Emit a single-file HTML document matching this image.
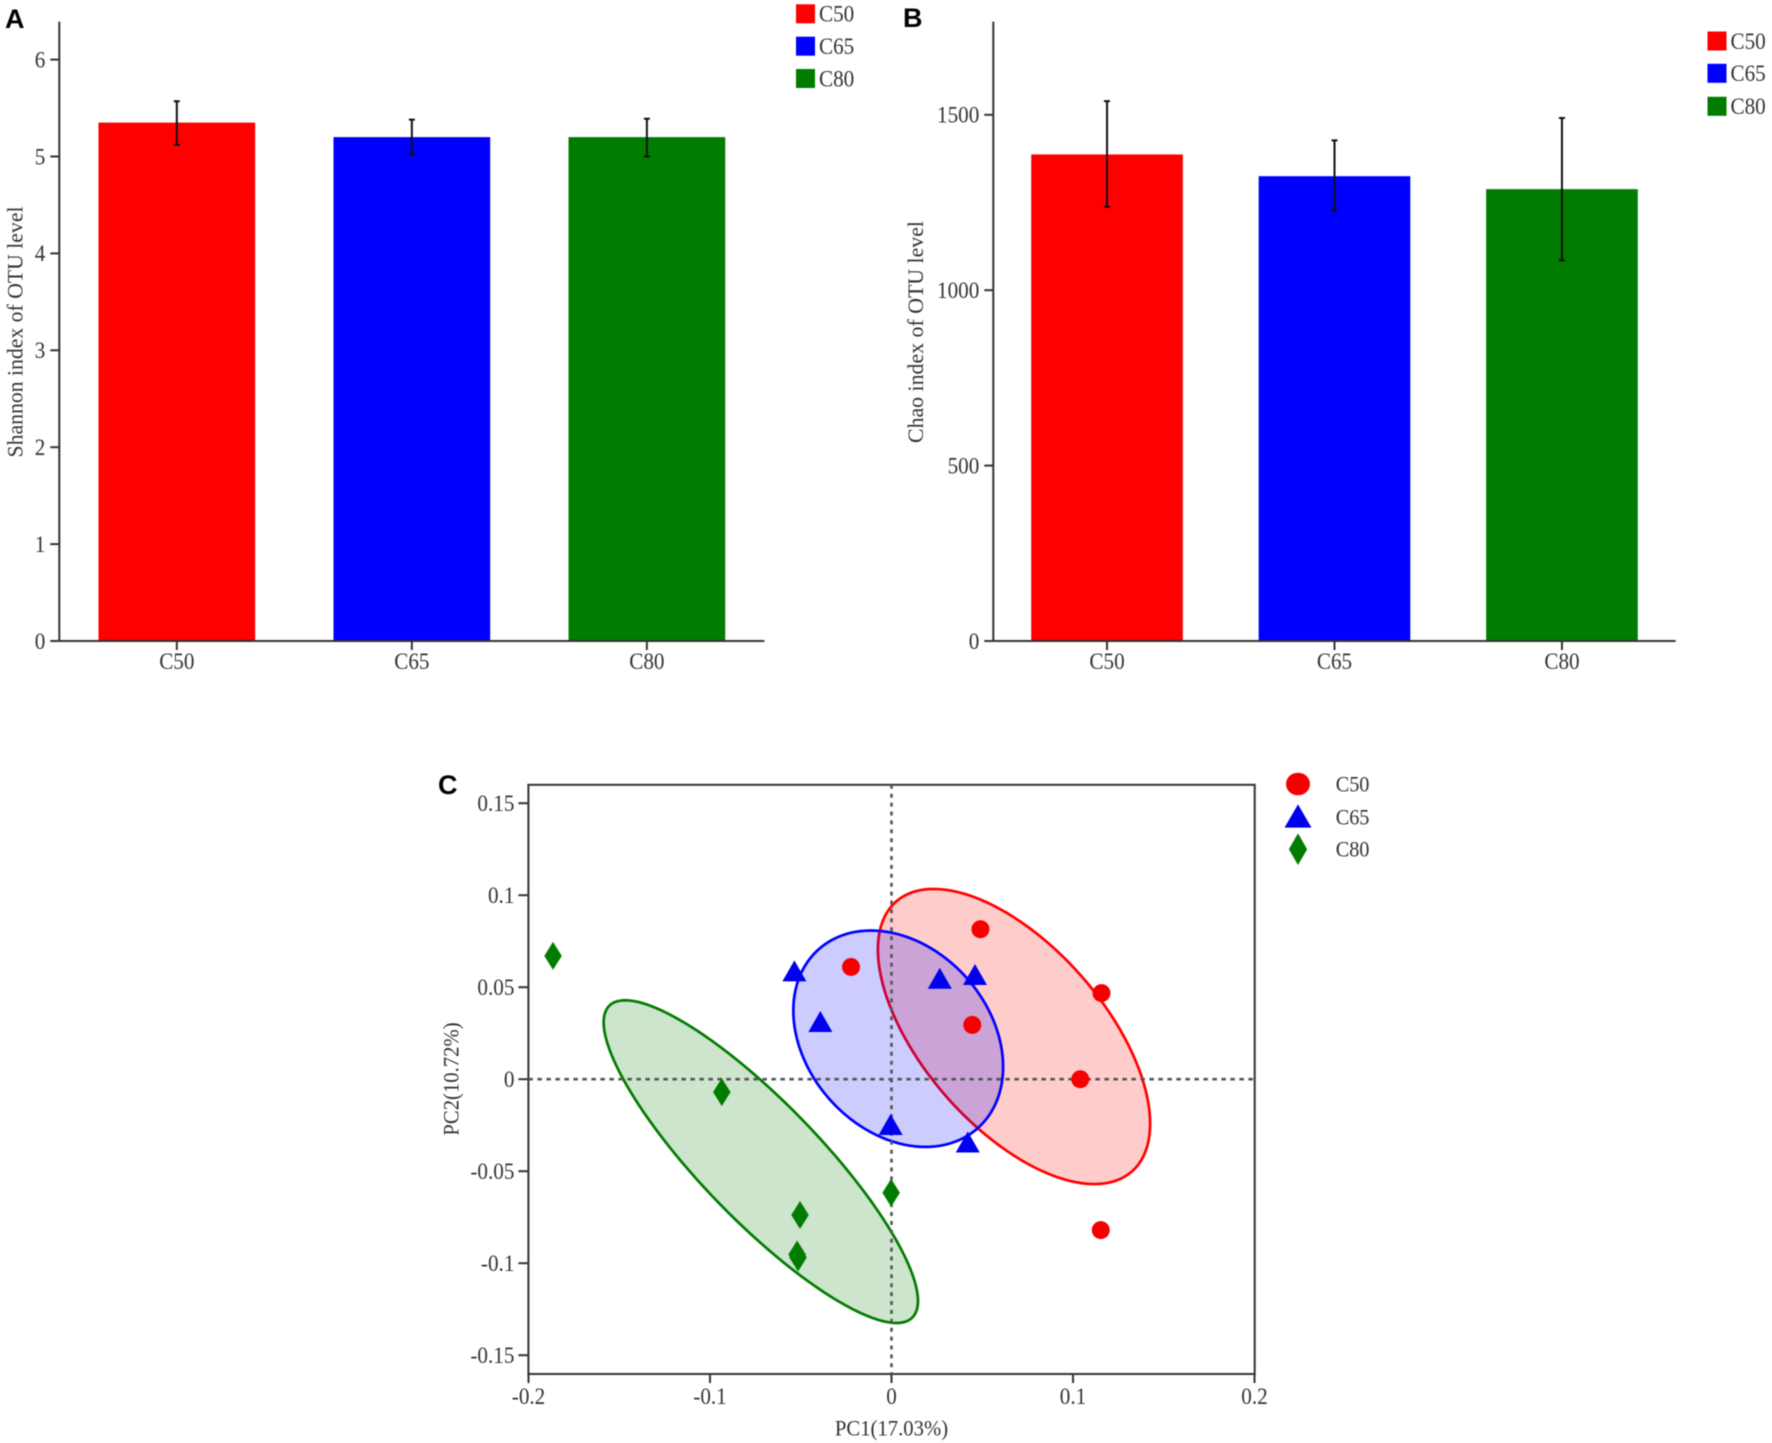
<!DOCTYPE html>
<html lang="en">
<head>
<meta charset="utf-8">
<title>Alpha diversity and PCoA of OTU level</title>
<style>
  html, body { margin: 0; padding: 0; background: #fff; }
  #figure { display: block; width: 1772px; height: 1443px; filter: blur(0.5px); }
  text { font-family: "Liberation Serif", serif; fill: #333; }
  .panel-letter { font-family: "Liberation Sans", sans-serif; font-weight: 700; font-size: 27px; fill: #000; }
</style>
</head>
<body>
<svg id="figure" xmlns="http://www.w3.org/2000/svg" width="1772" height="1443" viewBox="0 0 1772 1443">
  <rect x="0" y="0" width="1772" height="1443" fill="#fff"/>
  <text class="panel-letter" x="5" y="28">A</text>
  <text class="panel-letter" x="903" y="27">B</text>
  <text class="panel-letter" x="438" y="794">C</text>
  <g id="panel-a"></g>
  <g id="panel-b"></g>
  <g id="panel-c"></g>
</svg>
<script>
// ---- Chart data ----
const groupNames = ['C50', 'C65', 'C80'];
const groupColors = ['#ff0000', '#0000ff', '#007c00'];

const shannonValues = [5.35, 5.2, 5.2];
const shannonErrLow = [5.12, 5.02, 5.0];
const shannonErrHigh = [5.57, 5.38, 5.39];
const shannonTicks = [0, 1, 2, 3, 4, 5, 6];

const chaoValues = [1387, 1325, 1288];
const chaoErrLow = [1238, 1226, 1085];
const chaoErrHigh = [1539, 1427, 1491];
const chaoTicks = [0, 500, 1000, 1500];

const pc1Ticks = [-0.2, -0.1, 0, 0.1, 0.2];
const pc2Ticks = [-0.15, -0.1, -0.05, 0, 0.05, 0.1, 0.15];

const c50Pc1 = [-0.0223, 0.049, 0.1157, 0.0445, 0.104, 0.1153];
const c50Pc2 = [0.061, 0.0815, 0.0468, 0.0295, 0.0, -0.082];
const c65Pc1 = [-0.0535, -0.0392, 0.0266, 0.046, -0.0005, 0.042];
const c65Pc2 = [0.0575, 0.03, 0.0535, 0.0555, -0.026, -0.0355];
const c80Pc1 = [-0.1865, -0.0935, -0.0504, -0.052, -0.0515, -0.0002];
const c80Pc2 = [0.067, -0.007, -0.0738, -0.0953, -0.0969, -0.0617];

// confidence ellipses in data units: centre, half extents, correlation
const ellipsePc1Centre = [0.0675, 0.0037, -0.072];
const ellipsePc2Centre = [0.0232, 0.022, -0.0448];
const ellipsePc1Extent = [0.075, 0.0578, 0.0866];
const ellipsePc2Extent = [0.0802, 0.0588, 0.0877];
const ellipseCorrelation = [-0.59, -0.26, -0.863];

// ---- Drawing helpers ----
const SVG_NS = 'http://www.w3.org/2000/svg';
function mk(parent, tag, attrs, txt) {
  const el = document.createElementNS(SVG_NS, tag);
  for (const k in attrs) el.setAttribute(k, attrs[k]);
  if (txt !== undefined) el.textContent = txt;
  parent.appendChild(el);
  return el;
}
// Text in the reference is slightly condensed: same width as a smaller size, taller glyphs.
function label(parent, x, y, str, size, anchor, rotate, squeeze) {
  return mk(parent, 'text', {
    x: 0, y: 0, 'text-anchor': anchor, 'dominant-baseline': 'central', 'font-size': size,
    transform: 'translate(' + x + ' ' + y + ') rotate(' + (rotate || 0) + ') scale(' + (squeeze || 0.92) + ' 1)'
  }, str);
}
const AXIS = '#333';

function drawBarChart(root, cfg, values, errLow, errHigh, ticks) {
  const y = v => cfg.y0 - v * cfg.pxPerUnit;
  const band = (cfg.xEnd - cfg.xAxis) / groupNames.length;
  const xc = i => cfg.xAxis + band * (i + 0.5);
  const barW = band * 2 / 3;

  groupNames.forEach((name, i) => {
    const bar = mk(root, 'rect', { x: xc(i) - barW / 2, y: y(values[i]), width: barW, height: cfg.y0 - y(values[i]), fill: groupColors[i] });
    
    
  });

  const yAxis = mk(root, 'line', { x1: cfg.xAxis, x2: cfg.xAxis, y1: cfg.yTop, y2: cfg.y0 + 1, stroke: AXIS, 'stroke-width': 2 });
  
  
  const xAxis = mk(root, 'line', { x1: cfg.xAxis, x2: cfg.xEnd, y1: cfg.y0, y2: cfg.y0, stroke: AXIS, 'stroke-width': 2 });
  
  

  ticks.forEach(t => {
    const tick = mk(root, 'line', { x1: cfg.xAxis - 9, x2: cfg.xAxis, y1: y(t), y2: y(t), stroke: AXIS, 'stroke-width': 2 });
    
    
    const lab = label(root, cfg.xAxis - 14, y(t), String(t), 23, 'end');
    
    
  });

  groupNames.forEach((name, i) => {
    const tick = mk(root, 'line', { x1: xc(i), x2: xc(i), y1: cfg.y0, y2: cfg.y0 + 9, stroke: AXIS, 'stroke-width': 2 });
    
    
    const lab = label(root, xc(i), cfg.y0 + 20, name, 23, 'middle');
    
    

    const err = mk(root, 'path', {
      d: 'M' + (xc(i) - 3) + ' ' + y(errHigh[i]) + 'H' + (xc(i) + 3) +
         'M' + xc(i) + ' ' + y(errHigh[i]) + 'V' + y(errLow[i]) +
         'M' + (xc(i) - 3) + ' ' + y(errLow[i]) + 'H' + (xc(i) + 3),
      stroke: '#111', 'stroke-width': 2, fill: 'none'
    });
    
    

    const sw = mk(root, 'rect', { x: cfg.legendX, y: cfg.legendY[i] - 9.5, width: 19, height: 19, fill: groupColors[i] });
    
    
    const lt = label(root, cfg.legendX + 23, cfg.legendY[i], name, 23, 'start');
    
    
  });

  const title = mk(root, 'text', {
    x: cfg.titleX, y: cfg.titleY, 'text-anchor': 'middle', 'dominant-baseline': 'central', 'font-size': 22.5,
    textLength: cfg.titleLen, lengthAdjust: 'spacingAndGlyphs',
    transform: 'rotate(-90 ' + cfg.titleX + ' ' + cfg.titleY + ')'
  }, cfg.title);
  
  
}

drawBarChart(document.getElementById('panel-a'), {
  xAxis: 59.3, xEnd: 764.4, y0: 641, yTop: 21.6, pxPerUnit: 96.9,
  legendX: 796, legendY: [13.8, 46.2, 78.5],
  titleX: 15, titleY: 332, titleLen: 251, title: 'Shannon index of OTU level'
}, shannonValues, shannonErrLow, shannonErrHigh, shannonTicks);

drawBarChart(document.getElementById('panel-b'), {
  xAxis: 993.3, xEnd: 1675.7, y0: 641, yTop: 21.6, pxPerUnit: 0.3508,
  legendX: 1707.5, legendY: [41, 73.3, 106.3],
  titleX: 915.5, titleY: 332, titleLen: 222, title: 'Chao index of OTU level'
}, chaoValues, chaoErrLow, chaoErrHigh, chaoTicks);

// ---- Panel C: PCoA scatter ----
(function () {
  const root = document.getElementById('panel-c');
  const left = 528.4, right = 1254.7, top = 784.8, bottom = 1374;
  const x = v => 891.5 + v * 1815;
  const y = v => 1079.2 - v * 1840;

  const box = mk(root, 'rect', { x: left, y: top, width: right - left, height: bottom - top, fill: 'none', stroke: AXIS, 'stroke-width': 2 });
  
  

  // ellipses
  groupNames.forEach((name, i) => {
    let d = '';
    const steps = 120;
    const rho = ellipseCorrelation[i];
    for (let s = 0; s <= steps; s++) {
      const t = 2 * Math.PI * s / steps;
      const px = ellipsePc1Centre[i] + ellipsePc1Extent[i] * Math.cos(t);
      const py = ellipsePc2Centre[i] + ellipsePc2Extent[i] * (rho * Math.cos(t) + Math.sqrt(1 - rho * rho) * Math.sin(t));
      d += (s ? 'L' : 'M') + x(px).toFixed(2) + ' ' + y(py).toFixed(2);
    }
    const el = mk(root, 'path', { d: d + 'Z', fill: groupColors[i], 'fill-opacity': 0.2, stroke: groupColors[i], 'stroke-width': 2.7 });
    
    
  });

  // zero reference lines
  const zeroH = mk(root, 'line', { x1: left, x2: right, y1: y(0), y2: y(0), stroke: '#555', 'stroke-width': 2.6, 'stroke-dasharray': '4.5 4.5' });
  
  
  const zeroV = mk(root, 'line', { x1: x(0), x2: x(0), y1: top, y2: bottom, stroke: '#555', 'stroke-width': 2.6, 'stroke-dasharray': '4 4.9' });
  
  

  // ticks
  pc1Ticks.forEach(t => {
    const tick = mk(root, 'line', { x1: x(t), x2: x(t), y1: bottom, y2: bottom + 9, stroke: AXIS, 'stroke-width': 2 });
    
    
    const lab = label(root, x(t), bottom + 22, String(t), 23, 'middle');
    
    
  });
  pc2Ticks.forEach(t => {
    const tick = mk(root, 'line', { x1: left - 10, x2: left, y1: y(t), y2: y(t), stroke: AXIS, 'stroke-width': 2 });
    
    
    const lab = label(root, left - 14, y(t), String(t), 23, 'end');
    
    
  });

  // markers
  function circle(cx, cy, rx, ry, fill) { return mk(root, 'ellipse', { cx: cx, cy: cy, rx: rx, ry: ry, fill: fill }); }
  function triangle(cx, cy, w, h, fill) {
    return mk(root, 'path', { d: 'M' + cx + ' ' + (cy - h * 0.62) + 'L' + (cx + w / 2) + ' ' + (cy + h * 0.38) + 'L' + (cx - w / 2) + ' ' + (cy + h * 0.38) + 'Z', fill: fill });
  }
  function diamond(cx, cy, w, h, fill) {
    return mk(root, 'path', { d: 'M' + cx + ' ' + (cy - h / 2) + 'L' + (cx + w / 2) + ' ' + cy + 'L' + cx + ' ' + (cy + h / 2) + 'L' + (cx - w / 2) + ' ' + cy + 'Z', fill: fill });
  }
  c50Pc1.forEach((v, i) => {
    const el = circle(x(v), y(c50Pc2[i]), 9, 9, '#f50000');
    
    
  });
  c65Pc1.forEach((v, i) => {
    const el = triangle(x(v), y(c65Pc2[i]), 24, 21, '#0000ee');
    
    
  });
  c80Pc1.forEach((v, i) => {
    const el = diamond(x(v), y(c80Pc2[i]), 17.5, 28, '#007c00');
    
    
  });

  // axis titles
  const xTitle = label(root, x(0), 1428, 'PC1(17.03%)', 22.5, 'middle');
  
  
  const yTitle = label(root, 451, 1079, 'PC2(10.72%)', 22.5, 'middle', -90);
  
  

  // legend
  const lc = circle(1298, 784, 12, 11.3, '#f50000');
  
  
  const lTri = triangle(1298, 818.8, 27, 23.3, '#0000ee');
  
  
  const lDia = diamond(1298, 849.2, 18.3, 31.7, '#007c00');
  
  
  const legendYs = [784, 817, 849];
  groupNames.forEach((name, i) => {
    const lt = label(root, 1335.7, legendYs[i], name, 22, 'start');
    
    
  });
})();
</script>
</body>
</html>
